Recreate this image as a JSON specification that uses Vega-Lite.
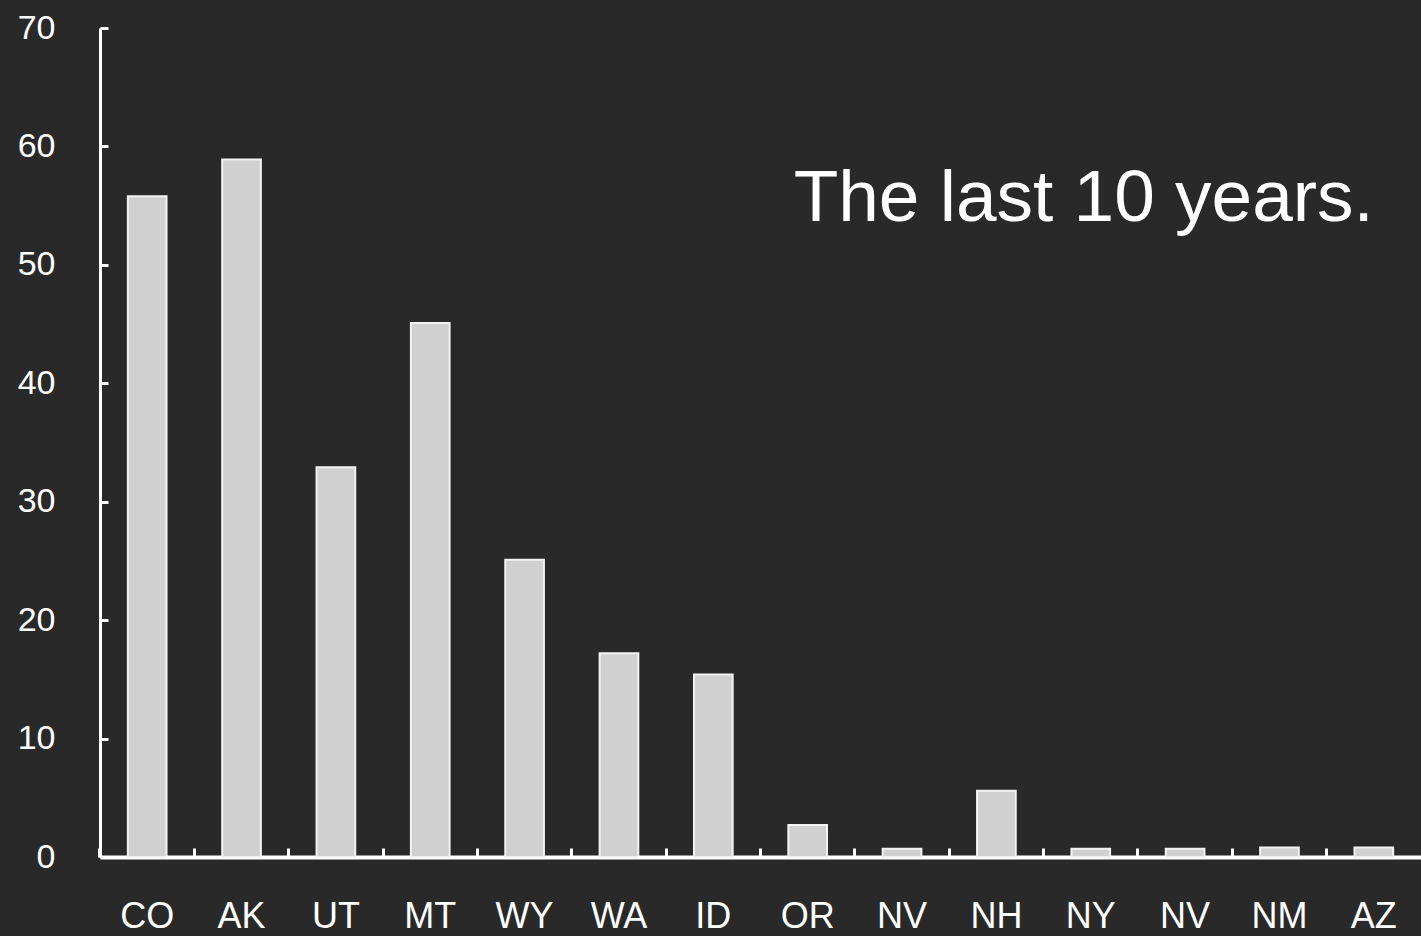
{
  "$schema": "https://vega.github.io/schema/vega-lite/v6.json",
  "width": 1321,
  "height": 829,
  "autosize": {"type": "none"},
  "padding": {"left": 100, "top": 28, "right": 0, "bottom": 79},
  "background": "#292929",
  "config": {
    "view": {"stroke": null},
    "axis": {
      "grid": false,
      "domainColor": "#ffffff",
      "tickColor": "#ffffff",
      "labelColor": "#ffffff",
      "labelFont": "Liberation Sans",
      "title": null
    }
  },
  "layer": [
    {
      "data": {
        "values": [
          {"state": "CO", "value": 55.8},
          {"state": "AK", "value": 58.9},
          {"state": "UT", "value": 32.9},
          {"state": "MT", "value": 45.1},
          {"state": "WY", "value": 25.1},
          {"state": "WA", "value": 17.2},
          {"state": "ID", "value": 15.4},
          {"state": "OR", "value": 2.7},
          {"state": "NV", "value": 0.7},
          {"state": "NH", "value": 5.6},
          {"state": "NY", "value": 0.7},
          {"state": "NV2", "value": 0.7},
          {"state": "NM", "value": 0.8},
          {"state": "AZ", "value": 0.8}
        ]
      },
      "mark": {"type": "bar", "fill": "#d0d0d0", "stroke": "#f2f2f2", "strokeWidth": 2},
      "encoding": {
        "x": {
          "field": "state",
          "type": "nominal",
          "sort": null,
          "scale": {"paddingInner": 0.59, "paddingOuter": 0.295},
          "axis": {
            "labelAngle": 0,
            "labelFontSize": 36,
            "labelExpr": "replace(datum.label, '2', '')",
            "bandPosition": -0.72,
            "tickSize": -9,
            "tickWidth": 3,
            "domainWidth": 4,
            "labelPadding": 51,
            "labelBaseline": "top"
          }
        },
        "y": {
          "field": "value",
          "type": "quantitative",
          "scale": {"domain": [0, 70]},
          "axis": {
            "values": [0, 10, 20, 30, 40, 50, 60, 70],
            "labelFontSize": 34,
            "tickSize": -8,
            "tickWidth": 3,
            "domainWidth": 3,
            "labelPadding": 53
          }
        }
      }
    },
    {
      "data": {"values": [{"state": "NY", "value": 55.6, "text": "The last 10 years."}]},
      "mark": {"type": "text", "font": "Liberation Sans", "fontSize": 73, "color": "#ffffff", "align": "center", "baseline": "middle", "dx": -7},
      "encoding": {
        "x": {"field": "state", "type": "nominal", "sort": null},
        "y": {"field": "value", "type": "quantitative"},
        "text": {"field": "text"}
      }
    }
  ]
}
